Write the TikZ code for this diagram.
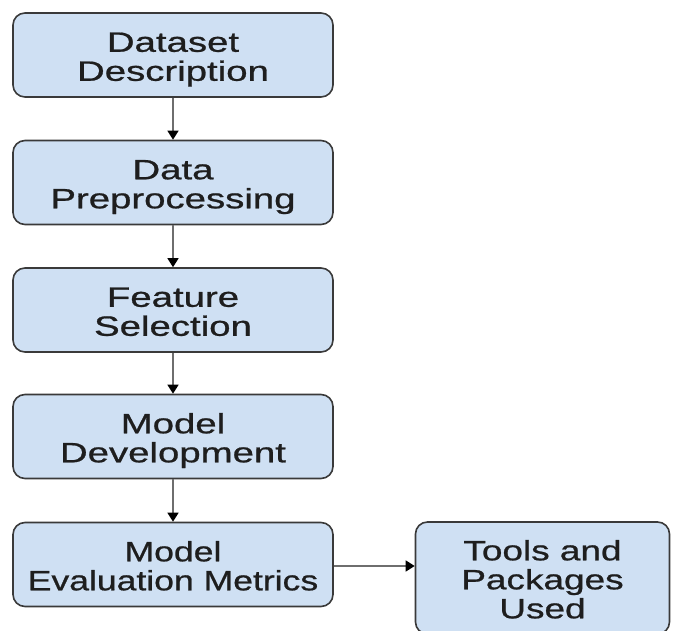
\documentclass[tikz,border=0pt]{standalone}
\usepackage{fontspec}
\setmainfont[FakeBold=0.7]{Liberation Sans}
\usetikzlibrary{arrows.meta}
\definecolor{boxfill}{HTML}{CFE0F3}
\definecolor{boxline}{HTML}{3A3A3A}
\definecolor{linkgray}{HTML}{6E6E6E}
\definecolor{inkcolor}{HTML}{1E1E1E}
% stage labels: centred lines, set wide and sitting a little low in the box
\newsavebox{\labelbox}
\newcommand{\boxtext}[2][1.37]{%
  \sbox{\labelbox}{\scalebox{#1}[1]{\begin{tabular}{@{}c@{}}#2\end{tabular}}}%
  \raisebox{-5.5pt}[\ht\labelbox][\dp\labelbox]{\usebox{\labelbox}}}
\tikzset{
  stage/.style={draw=boxline, line width=1.6pt, fill=boxfill, rounded corners=12pt,
    minimum width=320pt, minimum height=84pt, inner sep=0pt, text=inkcolor,
    font=\fontsize{28}{29}\selectfont, align=center},
  link/.style={draw=linkgray, line width=1.4pt,
    -{Triangle[length=9pt,width=11pt,fill=black,color=black]}}
}
\begin{document}
\begin{tikzpicture}[x=1pt,y=-1pt]
  \useasboundingbox (0,0) rectangle (673,631);
  \clip (0,0) rectangle (673,631);
  \node[stage] (dataset) at (173,55)    {\boxtext{Dataset\\Description}};
  \node[stage] (prep)    at (173,182.5) {\boxtext{Data\\Preprocessing}};
  \node[stage] (feat)    at (173,310)   {\boxtext{Feature\\Selection}};
  \node[stage] (model)   at (173,436.5) {\boxtext{Model\\Development}};
  \node[stage] (eval)    at (173,564.5) {\boxtext[1.27]{Model\\Evaluation Metrics}};
  \node[stage, minimum width=254pt, minimum height=112pt] (tools) at (542.5,578)
    {\boxtext[1.32]{Tools and\\Packages\\Used}};
  \draw[link] (dataset) -- (prep);
  \draw[link] (prep) -- (feat);
  \draw[link] (feat) -- (model);
  \draw[link] (model) -- (eval);
  \draw[link] (eval.east |- 0,566) -- (tools.west |- 0,566);
\end{tikzpicture}
\end{document}
